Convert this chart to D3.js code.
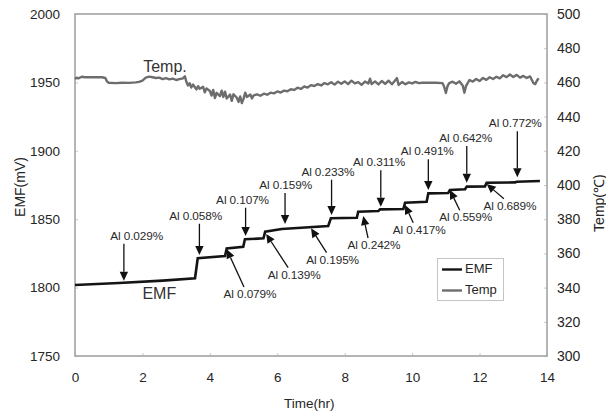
<!DOCTYPE html>
<html>
<head>
<meta charset="utf-8">
<script src="https://cdn.jsdelivr.net/npm/d3@7"></script>
<style>
  html, body { margin: 0; padding: 0; background: #fff; }
  svg { display: block; font-family: "Liberation Sans", Arial, Helvetica, sans-serif; }
</style>
</head>
<body>
<svg id="chart" width="606" height="412"></svg>
<script>
// ---------------- data ----------------
const xTicks = [0, 2, 4, 6, 8, 10, 12, 14];
const emfTicks = [1750, 1800, 1850, 1900, 1950, 2000];
const tempTicks = [300, 320, 340, 360, 380, 400, 420, 440, 460, 480, 500];

// EMF (mV) vs time (hr)
const emfTime = [0, 1.3, 2.6, 3.56, 3.64, 4.45, 4.50, 4.99, 5.04, 5.59, 5.64, 6.13, 7.51, 7.59, 8.36, 8.40, 9.00, 9.05, 9.74, 9.79, 10.43, 10.48, 11.07, 11.12, 11.57, 11.62, 12.16, 12.21, 13.05, 13.10, 13.79];
const emfValue = [1801.9, 1803.4, 1805.1, 1806.8, 1821.4, 1823.1, 1828.7, 1829.9, 1835.3, 1836.0, 1840.9, 1842.8, 1845.0, 1850.7, 1851.1, 1855.5, 1856.0, 1857.2, 1857.4, 1862.1, 1862.8, 1868.9, 1869.2, 1871.3, 1871.9, 1873.8, 1874.0, 1876.7, 1876.9, 1877.4, 1877.9];

// Temperature (°C) vs time (hr)
const tempTime = [0.0, 0.05, 0.1, 0.2, 0.3, 0.4, 0.5, 0.6, 0.7, 0.8, 0.9, 0.95, 1.0, 1.2, 1.4, 1.6, 1.8, 1.9, 2.0, 2.1, 2.2, 2.3, 2.4, 2.5, 2.6, 2.7, 2.8, 2.9, 3.0, 3.1, 3.2, 3.26, 3.3, 3.35, 3.4, 3.45, 3.5, 3.6, 3.65, 3.7, 3.8, 3.85, 3.9, 4.0, 4.05, 4.1, 4.15, 4.2, 4.3, 4.35, 4.4, 4.45, 4.5, 4.6, 4.65, 4.7, 4.8, 4.85, 4.9, 4.95, 5.0, 5.05, 5.1, 5.2, 5.25, 5.3, 5.4, 5.5, 5.6, 5.7, 5.8, 5.9, 6.0, 6.1, 6.2, 6.3, 6.4, 6.5, 6.6, 6.7, 6.8, 6.9, 7.0, 7.1, 7.2, 7.3, 7.4, 7.5, 7.6, 7.7, 7.8, 7.9, 8.0, 8.1, 8.2, 8.3, 8.4, 8.5, 8.6, 8.7, 8.75, 8.8, 8.9, 9.0, 9.1, 9.2, 9.3, 9.4, 9.5, 9.55, 9.6, 9.7, 9.8, 9.9, 10.0, 10.1, 10.2, 10.3, 10.5, 10.7, 10.9, 10.95, 11.0, 11.05, 11.1, 11.2, 11.3, 11.4, 11.5, 11.55, 11.6, 11.7, 11.8, 11.9, 12.0, 12.1, 12.2, 12.3, 12.4, 12.5, 12.6, 12.7, 12.8, 12.9, 13.0, 13.1, 13.2, 13.3, 13.4, 13.5, 13.6, 13.65, 13.7, 13.75];
const tempValue = [462.0, 462.8, 462.4, 463.3, 463.0, 463.1, 463.0, 463.0, 463.0, 463.0, 462.6, 460.5, 459.8, 459.6, 459.8, 459.7, 460.0, 460.3, 461.0, 462.8, 463.4, 463.0, 462.6, 462.8, 461.9, 462.5, 461.8, 462.2, 461.4, 461.9, 462.4, 463.6, 460.5, 458.2, 459.5, 457.0, 458.8, 455.9, 457.8, 456.3, 457.4, 454.2, 456.5, 455.0, 452.3, 455.6, 450.8, 453.9, 452.0, 455.2, 451.5, 454.6, 450.6, 452.9, 449.2, 453.1, 451.0, 448.6, 451.8, 447.9, 450.5, 454.0, 451.5, 452.9, 450.6, 452.4, 453.0, 452.2, 453.4, 452.8, 454.0, 453.6, 454.7, 454.1, 455.2, 454.8, 456.0, 455.6, 456.9, 456.2, 457.6, 457.0, 458.4, 457.9, 459.0, 458.2, 459.6, 458.9, 460.1, 458.7, 460.4, 459.2, 460.6, 459.0, 461.0, 459.4, 460.2, 458.6, 460.5, 459.3, 462.2, 459.0, 460.6, 458.8, 460.8, 459.1, 461.0, 458.9, 461.3, 462.5, 458.5, 460.2, 458.9, 460.0, 459.4, 460.3, 459.6, 459.8, 459.8, 459.8, 459.6, 457.5, 453.8, 457.8, 459.6, 460.4, 459.2, 460.6, 458.2, 454.0, 458.0, 461.4, 460.5, 462.0, 460.8, 462.6, 461.5, 463.0, 462.0, 463.3, 462.4, 464.2, 463.1, 464.6, 463.2, 464.4, 462.8, 463.8, 462.6, 463.5, 459.5, 459.0, 461.0, 462.4];

// Al addition annotations (arrow tip and label centre in data units)
const alText = ['Al 0.029%', 'Al 0.058%', 'Al 0.079%', 'Al 0.107%', 'Al 0.139%', 'Al 0.159%', 'Al 0.195%', 'Al 0.233%', 'Al 0.242%', 'Al 0.311%', 'Al 0.417%', 'Al 0.491%', 'Al 0.559%', 'Al 0.642%', 'Al 0.689%', 'Al 0.772%'];
const alSide = ['above', 'above', 'below', 'above', 'below', 'above', 'below', 'above', 'below', 'above', 'below', 'above', 'below', 'above', 'below', 'above'];
const alTipT = [1.45, 3.69, 4.50, 5.06, 5.67, 6.23, 7.00, 7.61, 8.55, 9.07, 9.79, 10.48, 11.12, 11.62, 12.21, 13.12];
const alTipV = [1805.0, 1823.8, 1828.0, 1837.7, 1839.2, 1846.5, 1843.3, 1853.1, 1852.3, 1859.1, 1860.4, 1871.3, 1871.3, 1876.7, 1875.7, 1880.6];
const alLabelT = [1.83, 3.58, 5.19, 4.97, 6.50, 6.25, 7.64, 7.50, 8.87, 9.02, 10.21, 10.45, 11.59, 11.59, 12.90, 13.06];
const alLabelV = [1837.2, 1851.8, 1794.6, 1863.5, 1808.7, 1874.3, 1819.7, 1884.0, 1830.4, 1890.9, 1841.6, 1898.9, 1850.7, 1908.6, 1859.1, 1919.4];

// ---------------- layout ----------------
const svg = d3.select('#chart');
const L = 75, R = 547, T = 14, B = 356;
const x = d3.scaleLinear().domain([0, 14]).range([L, R]);
const yL = d3.scaleLinear().domain([1750, 2000]).range([B, T]);
const yR = d3.scaleLinear().domain([300, 500]).range([B, T]);
const frameColor = '#a3a3a3';
const textColor = '#262626';

// axes
const gL = svg.append('g').attr('transform', `translate(${L},0)`)
  .call(d3.axisLeft(yL).tickValues(emfTicks).tickSize(-3).tickPadding(15).tickFormat(d3.format('d')));
const gR = svg.append('g').attr('transform', `translate(${R},0)`)
  .call(d3.axisRight(yR).tickValues(tempTicks).tickSize(-3).tickPadding(10).tickFormat(d3.format('d')));
const gB = svg.append('g').attr('transform', `translate(0,${B})`)
  .call(d3.axisBottom(x).tickValues(xTicks).tickSize(-3).tickPadding(16).tickFormat(d3.format('d')));
[gL, gR, gB].forEach(g => {
  g.select('.domain').remove();
  g.selectAll('.tick line').attr('stroke', '#c8c8c8').attr('stroke-width', 1);
  g.selectAll('.tick text').attr('fill', textColor).style('font-family', '"Liberation Sans", Arial, sans-serif');
});
gL.selectAll('.tick text').style('font-size', '13.5px');
gR.selectAll('.tick text').style('font-size', '14px');
gB.selectAll('.tick text').style('font-size', '13.5px');

// frame
svg.append('rect').attr('x', L).attr('y', T).attr('width', R - L).attr('height', B - T)
  .attr('fill', 'none').attr('stroke', frameColor).attr('stroke-width', 1.6);

// axis titles
svg.append('text').attr('transform', `translate(21,${(yL(1900) + yL(1850)) / 2 + 2}) rotate(-90)`)
  .attr('text-anchor', 'middle').attr('dominant-baseline', 'middle')
  .attr('fill', textColor).style('font-size', '14px').text('EMF(mV)');
svg.append('text').attr('transform', `translate(600,${yR(390) + 1}) rotate(-90)`)
  .attr('text-anchor', 'middle').attr('dominant-baseline', 'middle')
  .attr('fill', textColor).style('font-size', '14px').text('Temp(\u2103)');
svg.append('text').attr('x', x(6.95)).attr('y', 408)
  .attr('text-anchor', 'middle').attr('fill', textColor).style('font-size', '13.5px').text('Time(hr)');

// series
const emfData = emfTime.map((t, i) => [t, emfValue[i]]);
const tempData = tempTime.map((t, i) => [t, tempValue[i]]);
svg.append('path').datum(tempData)
  .attr('fill', 'none').attr('stroke', '#6d6d6d').attr('stroke-width', 2.4).attr('stroke-linejoin', 'round')
  .attr('d', d3.line().x(d => x(d[0])).y(d => yR(d[1])));
svg.append('path').datum(emfData)
  .attr('fill', 'none').attr('stroke', '#141414').attr('stroke-width', 2.6).attr('stroke-linejoin', 'miter')
  .attr('d', d3.line().x(d => x(d[0])).y(d => yL(d[1])));

// in-plot series labels
svg.append('text').attr('x', x(2.67)).attr('y', yR(468.4)).attr('dominant-baseline', 'middle')
  .attr('text-anchor', 'middle').attr('fill', '#333').style('font-size', '16px').text('Temp.');
svg.append('text').attr('x', x(2.5)).attr('y', yL(1794.6)).attr('dominant-baseline', 'middle')
  .attr('text-anchor', 'middle').attr('fill', '#333').style('font-size', '16px').text('EMF');

// annotations
const annoG = svg.append('g');
alText.forEach((txt, i) => {
  const tipX = x(alTipT[i]), tipY = yL(alTipV[i]);
  const lx = x(alLabelT[i]), ly = yL(alLabelV[i]);
  let tailX, tailY;
  if (alSide[i] === 'above') { tailX = tipX; tailY = ly + 7; }
  else { tailX = lx - 6; tailY = ly - 8; }
  const dx = tipX - tailX, dy = tipY - tailY, len = Math.hypot(dx, dy);
  const ux = dx / len, uy = dy / len;
  const hl = 9, hw = 4.2;
  const bx = tipX - ux * hl, by = tipY - uy * hl;
  annoG.append('line').attr('x1', tailX).attr('y1', tailY).attr('x2', bx).attr('y2', by)
    .attr('stroke', '#111').attr('stroke-width', 1.3);
  annoG.append('path')
    .attr('d', `M${tipX},${tipY}L${bx - uy * hw},${by + ux * hw}L${bx + uy * hw},${by - ux * hw}Z`)
    .attr('fill', '#111');
  annoG.append('text').attr('x', lx).attr('y', ly).attr('text-anchor', 'middle')
    .attr('dominant-baseline', 'middle').attr('fill', '#2a2a2a')
    .style('font-size', '11.8px').style('letter-spacing', '-0.1px').text(txt);
});

// legend
const lg = svg.append('g');
lg.append('rect').attr('x', 437.5).attr('y', 258.5).attr('width', 66).attr('height', 42)
  .attr('fill', '#fff').attr('stroke', '#c4c4c4').attr('stroke-width', 1);
lg.append('line').attr('x1', 442).attr('x2', 462).attr('y1', 269.5).attr('y2', 269.5)
  .attr('stroke', '#141414').attr('stroke-width', 2.4);
lg.append('line').attr('x1', 442).attr('x2', 462).attr('y1', 290.5).attr('y2', 290.5)
  .attr('stroke', '#6d6d6d').attr('stroke-width', 2.4);
lg.append('text').attr('x', 465).attr('y', 270).attr('dominant-baseline', 'middle')
  .attr('fill', textColor).style('font-size', '13px').text('EMF');
lg.append('text').attr('x', 465).attr('y', 291).attr('dominant-baseline', 'middle')
  .attr('fill', textColor).style('font-size', '13px').text('Temp');
</script>
</body>
</html>
